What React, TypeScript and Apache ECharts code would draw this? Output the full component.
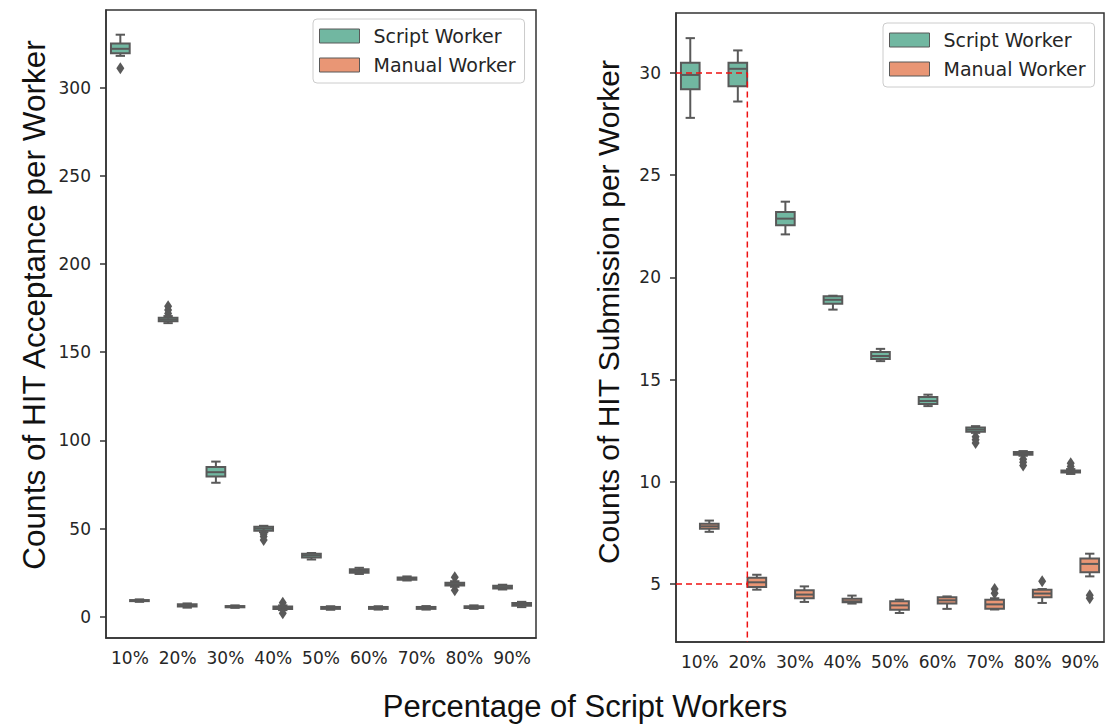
import React, { useEffect, useRef } from 'react';
import * as echarts from 'echarts';

const categories = ['10%', '20%', '30%', '40%', '50%', '60%', '70%', '80%', '90%'];

// each row: [category index, low whisker, Q1, median, Q3, high whisker]
const acceptScript = [
  [0, 318, 319.5, 322, 325, 330],
  [1, 166.5, 167.5, 168.5, 169.5, 170.5],
  [2, 76, 79.5, 82, 85, 88],
  [3, 48, 48.8, 50, 51, 51.6],
  [4, 32.5, 33.6, 34.8, 35.8, 36.2],
  [5, 24.3, 25, 26, 27, 27.8],
  [6, 20.6, 21, 21.7, 22.3, 22.9],
  [7, 17, 17.8, 18.5, 19.3, 20.2],
  [8, 15.5, 16, 16.8, 17.6, 18.2],
];
const acceptManual = [
  [0, 8.5, 8.9, 9.2, 9.5, 9.9],
  [1, 5.2, 5.8, 6.5, 7.1, 7.6],
  [2, 5.1, 5.4, 5.8, 6.1, 6.5],
  [3, 3.8, 4.5, 5.2, 5.8, 6.5],
  [4, 4.0, 4.5, 5.0, 5.6, 6.0],
  [5, 4.1, 4.5, 5.0, 5.6, 6.0],
  [6, 4.1, 4.5, 5.1, 5.6, 6.1],
  [7, 4.5, 5.0, 5.5, 6.0, 6.5],
  [8, 5.5, 6.3, 7.0, 7.8, 8.5],
];
// [category index, value]
const acceptScriptOutliers = [
  [0, 311], [1, 172], [1, 174], [1, 176],
  [3, 47], [3, 45.5], [3, 43.5],
  [7, 22.5], [7, 15],
];
const acceptManualOutliers = [[3, 8], [3, 2]];

const submitScript = [
  [0, 27.8, 29.2, 29.9, 30.5, 31.7],
  [1, 28.6, 29.35, 30.2, 30.5, 31.1],
  [2, 22.1, 22.55, 22.87, 23.2, 23.7],
  [3, 18.42, 18.71, 18.9, 19.07, 19.1],
  [4, 15.9, 16.0, 16.15, 16.35, 16.5],
  [5, 13.7, 13.8, 13.95, 14.15, 14.26],
  [6, 12.39, 12.45, 12.55, 12.65, 12.72],
  [7, 11.27, 11.32, 11.4, 11.45, 11.5],
  [8, 10.38, 10.45, 10.5, 10.55, 10.62],
];
const submitManual = [
  [0, 7.55, 7.7, 7.82, 7.95, 8.1],
  [1, 4.72, 4.85, 5.08, 5.3, 5.45],
  [2, 4.12, 4.3, 4.48, 4.69, 4.88],
  [3, 4.04, 4.1, 4.15, 4.27, 4.43],
  [4, 3.58, 3.74, 3.95, 4.15, 4.23],
  [5, 3.78, 4.04, 4.2, 4.35, 4.39],
  [6, 3.75, 3.79, 4.0, 4.23, 4.3],
  [7, 4.07, 4.35, 4.53, 4.72, 4.75],
  [8, 5.37, 5.57, 5.98, 6.24, 6.48],
];
const submitScriptOutliers = [
  [6, 12.2], [6, 12.05], [6, 11.9],
  [7, 11.1], [7, 10.95], [7, 10.8],
  [8, 10.75], [8, 10.9],
];
const submitManualOutliers = [[6, 4.55], [6, 4.75], [7, 5.13], [8, 4.3], [8, 4.45]];

const acceptTicks = [0, 50, 100, 150, 200, 250, 300];
const submitTicks = [5, 10, 15, 20, 25, 30];
const acceptRange = [-12, 344];
const submitRange = [2.16, 32.93];

// reference lines on the right panel: [x (category position), y]
const refLine30 = [[-0.5, 30], [1, 30], [1, submitRange[0]]];
const refLine5 = [[-0.5, 5], [1, 5]];

const SCRIPT_COLOR = '#71b7a1';
const MANUAL_COLOR = '#e99675';
const GRAY = '#595959';
const LW = 2;

function boxRenderer(offset: number, fill: string) {
  return (_params: any, api: any) => {
    const cat = api.value(0);
    const band = api.size([1, 0])[0];
    const cx = api.coord([cat, 0])[0] + offset * band;
    const w = band * 0.392;
    const y = (i: number) => api.coord([cat, api.value(i)])[1];
    const yLow = y(1), yQ1 = y(2), yMed = y(3), yQ3 = y(4), yHigh = y(5);
    const lineStyle = { stroke: GRAY, lineWidth: LW };
    return {
      type: 'group',
      children: [
        { type: 'line', shape: { x1: cx, y1: yLow, x2: cx, y2: yQ1 }, style: lineStyle },
        { type: 'line', shape: { x1: cx, y1: yQ3, x2: cx, y2: yHigh }, style: lineStyle },
        { type: 'line', shape: { x1: cx - w / 4, y1: yLow, x2: cx + w / 4, y2: yLow }, style: lineStyle },
        { type: 'line', shape: { x1: cx - w / 4, y1: yHigh, x2: cx + w / 4, y2: yHigh }, style: lineStyle },
        {
          type: 'rect',
          shape: { x: cx - w / 2, y: yQ3, width: w, height: Math.max(yQ1 - yQ3, 0.5) },
          style: { fill, stroke: GRAY, lineWidth: LW },
        },
        { type: 'line', shape: { x1: cx - w / 2, y1: yMed, x2: cx + w / 2, y2: yMed }, style: lineStyle },
      ],
    };
  };
}

function outlierRenderer(offset: number) {
  return (_params: any, api: any) => {
    const cat = api.value(0);
    const band = api.size([1, 0])[0];
    const p = api.coord([cat, api.value(1)]);
    const cx = p[0] + offset * band;
    const cy = p[1];
    const hw = 4, hh = 6;
    return {
      type: 'polygon',
      shape: { points: [[cx, cy - hh], [cx + hw, cy], [cx, cy + hh], [cx - hw, cy]] },
      style: { fill: GRAY },
    };
  };
}

const tickFont = { fontFamily: 'DejaVu Sans', fontSize: 17, color: '#262626' };

function catAxis(gridIndex: number) {
  return {
    type: 'category',
    gridIndex,
    data: categories,
    axisLine: { onZero: false, lineStyle: { color: '#333', width: 1.5 } },
    axisTick: { alignWithLabel: true, length: 6, lineStyle: { color: '#333', width: 1.5 } },
    axisLabel: { ...tickFont, interval: 0, margin: 11 },
    splitLine: { show: false },
  };
}

function valAxis(gridIndex: number, range: number[], ticks: number[]) {
  return {
    type: 'value',
    gridIndex,
    min: range[0],
    max: range[1],
    axisLine: { show: true, onZero: false, lineStyle: { color: '#333', width: 1.5 } },
    axisTick: { show: true, length: 6, customValues: ticks, lineStyle: { color: '#333', width: 1.5 } },
    axisLabel: { ...tickFont, margin: 15, customValues: ticks },
    splitLine: { show: false },
  };
}

const legendItems = [
  { name: 'Script Worker', itemStyle: { color: SCRIPT_COLOR, borderColor: GRAY, borderWidth: 1 } },
  { name: 'Manual Worker', itemStyle: { color: MANUAL_COLOR, borderColor: GRAY, borderWidth: 1 } },
];

function legendAt(left: number, top: number) {
  return {
    left,
    top,
    orient: 'vertical',
    data: legendItems,
    icon: 'rect',
    itemWidth: 40,
    itemHeight: 14,
    itemGap: 9,
    padding: [7, 9, 8, 6],
    backgroundColor: 'rgba(255,255,255,0.85)',
    borderColor: '#cccccc',
    borderWidth: 1,
    borderRadius: 4,
    selectedMode: false,
    textStyle: { fontFamily: 'DejaVu Sans', fontSize: 19, color: '#262626', lineHeight: 20, padding: [0, 0, 0, 9] },
  };
}

function boxSeries(name: string, data: number[][], offset: number, color: string, axisIndex: number) {
  return {
    type: 'custom',
    name,
    xAxisIndex: axisIndex,
    yAxisIndex: axisIndex,
    itemStyle: { color },
    renderItem: boxRenderer(offset, color),
    data,
    z: 2,
  };
}

function outlierSeries(name: string, data: number[][], offset: number, color: string, axisIndex: number) {
  return {
    type: 'custom',
    name,
    xAxisIndex: axisIndex,
    yAxisIndex: axisIndex,
    itemStyle: { color },
    renderItem: outlierRenderer(offset),
    data,
    z: 2,
  };
}

const titleFont = 'Liberation Sans';

export default function App() {
  const ref = useRef<HTMLDivElement>(null);
  useEffect(() => {
    if (!ref.current) return;
    const chart = echarts.init(ref.current, undefined, { renderer: 'svg' });
    const refLineStyle = { color: '#ee1111', width: 1.5, type: [6, 4] };
    chart.setOption({
      animation: false,
      backgroundColor: '#ffffff',
      grid: [
        { left: 106, top: 10, width: 430, height: 628, show: true, borderColor: '#333', borderWidth: 1.5 },
        { left: 676, top: 13, width: 428, height: 629, show: true, borderColor: '#333', borderWidth: 1.5 },
      ],
      xAxis: [
        catAxis(0),
        catAxis(1),
        { type: 'value', gridIndex: 1, min: -0.5, max: 8.5, show: false },
      ],
      yAxis: [valAxis(0, acceptRange, acceptTicks), valAxis(1, submitRange, submitTicks)],
      legend: [legendAt(313, 19), legendAt(883, 23)],
      graphic: [
        {
          type: 'text',
          x: 34,
          y: 305,
          rotation: Math.PI / 2,
          style: {
            text: 'Counts of HIT Acceptance per Worker',
            fontFamily: titleFont,
            fontSize: 31.5,
            fill: '#111',
            align: 'center',
            verticalAlign: 'middle',
          },
        },
        {
          type: 'text',
          x: 608,
          y: 312,
          rotation: Math.PI / 2,
          style: {
            text: 'Counts of HIT Submission per Worker',
            fontFamily: titleFont,
            fontSize: 30,
            fill: '#111',
            align: 'center',
            verticalAlign: 'middle',
          },
        },
        {
          type: 'text',
          x: 585,
          y: 706,
          style: {
            text: 'Percentage of Script Workers',
            fontFamily: titleFont,
            fontSize: 31,
            fill: '#111',
            align: 'center',
            verticalAlign: 'middle',
          },
        },
      ],
      series: [
        boxSeries('Script Worker', acceptScript, -0.2, SCRIPT_COLOR, 0),
        boxSeries('Manual Worker', acceptManual, 0.2, MANUAL_COLOR, 0),
        outlierSeries('Script Worker', acceptScriptOutliers, -0.2, SCRIPT_COLOR, 0),
        outlierSeries('Manual Worker', acceptManualOutliers, 0.2, MANUAL_COLOR, 0),
        boxSeries('Script Worker', submitScript, -0.2, SCRIPT_COLOR, 1),
        boxSeries('Manual Worker', submitManual, 0.2, MANUAL_COLOR, 1),
        outlierSeries('Script Worker', submitScriptOutliers, -0.2, SCRIPT_COLOR, 1),
        outlierSeries('Manual Worker', submitManualOutliers, 0.2, MANUAL_COLOR, 1),
        {
          type: 'line',
          xAxisIndex: 2,
          yAxisIndex: 1,
          data: refLine30,
          symbol: 'none',
          lineStyle: refLineStyle,
          z: 5,
          silent: true,
        },
        {
          type: 'line',
          xAxisIndex: 2,
          yAxisIndex: 1,
          data: refLine5,
          symbol: 'none',
          lineStyle: refLineStyle,
          z: 5,
          silent: true,
        },
      ],
    });
    return () => chart.dispose();
  }, []);
  return (
    <div
      ref={ref}
      style={{ position: 'absolute', left: 0, top: 0, width: 1108, height: 727 }}
    />
  );
}
